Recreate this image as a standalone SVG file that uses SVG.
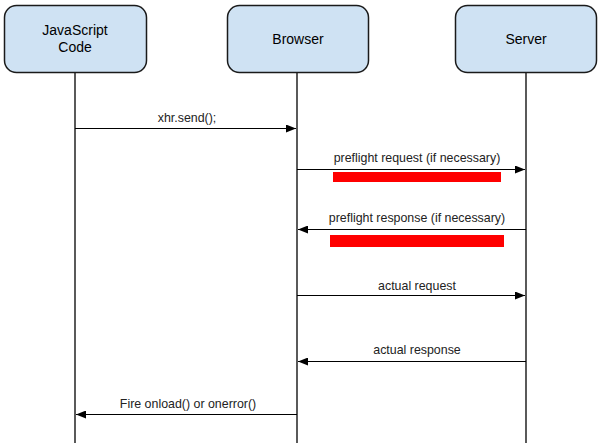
<svg xmlns="http://www.w3.org/2000/svg" width="600" height="443" viewBox="0 0 600 443">
<style>
.box{fill:#cfe2f3;stroke:#1a1a1a;stroke-width:1.5}
.life{stroke:#000;stroke-width:1.3}
.msg{stroke:#000;stroke-width:1.2;fill:none}
.t{font-family:"Liberation Sans",Arial,sans-serif;font-size:14px;fill:#000;text-anchor:middle}
.l{font-family:"Liberation Sans",Arial,sans-serif;font-size:12.4px;fill:#222;text-anchor:middle}
.red{fill:#ff0000}
</style>
<defs>
<marker id="ah" markerWidth="10" markerHeight="8" refX="10" refY="4" orient="auto" markerUnits="userSpaceOnUse">
<path d="M0,0 L10,4 L0,8 z" fill="#000"/>
</marker>
</defs>
<rect width="600" height="443" fill="#fff"/>
<g id="lifelines">
<line class="life" x1="75" y1="72" x2="75" y2="443"/>
<line class="life" x1="297" y1="73" x2="297" y2="443"/>
<line class="life" x1="526" y1="73" x2="526" y2="443"/>
</g>
<g id="js">
<rect class="box" x="4.5" y="5.5" width="142" height="67" rx="12"/>
<text class="t" x="75" y="35">JavaScript</text>
<text class="t" x="75" y="52">Code</text>
</g>
<g id="browser">
<rect class="box" x="227.5" y="5.5" width="141" height="67" rx="12"/>
<text class="t" x="298" y="44">Browser</text>
</g>
<g id="server">
<rect class="box" x="455.5" y="5.5" width="141" height="67" rx="12"/>
<text class="t" x="526" y="44">Server</text>
</g>
<g id="connectors">
<line class="msg" x1="75" y1="128.5" x2="296" y2="128.5" marker-end="url(#ah)"/>
<text class="l" x="187" y="122">xhr.send();</text>
<line class="msg" x1="297" y1="169.5" x2="525" y2="169.5" marker-end="url(#ah)"/>
<text class="l" x="417" y="162">preflight request (if necessary)</text>
<line class="msg" x1="526" y1="229.5" x2="298" y2="229.5" marker-end="url(#ah)"/>
<text class="l" x="417" y="222">preflight response (if necessary)</text>
<line class="msg" x1="297" y1="295.5" x2="525" y2="295.5" marker-end="url(#ah)"/>
<text class="l" x="417" y="290">actual request</text>
<line class="msg" x1="526" y1="361.5" x2="298" y2="361.5" marker-end="url(#ah)"/>
<text class="l" x="417" y="354">actual response</text>
<line class="msg" x1="297" y1="414.5" x2="76" y2="414.5" marker-end="url(#ah)"/>
<text class="l" x="188" y="408">Fire onload() or onerror()</text>
</g>
<g id="redactions">
<rect class="red" x="333" y="172" width="168" height="10"/>
<rect class="red" x="330" y="235" width="174" height="12"/>
</g>
</svg>
